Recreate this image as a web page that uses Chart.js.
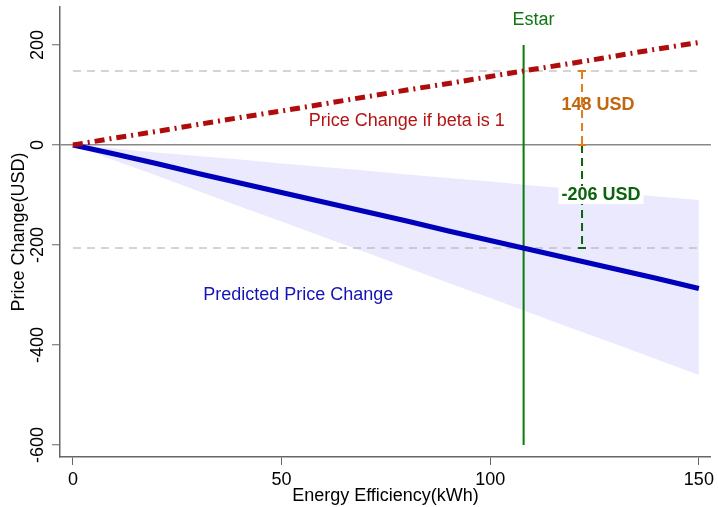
<!DOCTYPE html>
<html>
<head>
<meta charset="utf-8">
<script src="https://cdn.jsdelivr.net/npm/chart.js@4/dist/chart.umd.min.js"></script>
<style>
  html, body { margin: 0; padding: 0; background: #fff; }
  #wrap { width: 718px; height: 507px; position: relative; }
</style>
</head>
<body>
<div id="wrap"><canvas id="price-chart"></canvas></div>
<script>
// kWh saved
const efficiency = [0, 10, 20, 30, 40, 50, 60, 70, 80, 90, 100, 110, 120, 130, 140, 150];
// predicted price change and its band
const predicted = [0, -18, -37, -57, -76, -95, -114, -133, -152, -172, -191, -210, -229, -248, -267, -287];
const upperBand = [0, -7, -15, -22, -29, -37, -44, -51, -59, -66, -73, -81, -88, -95, -103, -110];
const lowerBand = [0, -31, -61, -92, -123, -153, -184, -214, -245, -276, -306, -337, -368, -398, -429, -460];
// price change if beta is 1
const betaOne = [0, 14, 27, 41, 55, 68, 82, 96, 110, 123, 137, 151, 164, 178, 192, 205];

const estarX = 108;
const estarSpan = [200, -600];
const gapX = 122;
const refLevels = [148, -206];
const refSpan = [0, 150];

const xTicks = [0, 50, 100, 150];
const yTicks = [200, 0, -200, -400, -600];

const FONT = "'Liberation Sans', Arial, sans-serif";

const pts = (ys) => ys.map((y, i) => ({ x: efficiency[i], y: y }));
const seg = (x0, y0, x1, y1) => [{ x: x0, y: y0 }, { x: x1, y: y1 }];

const datasets = [
  { // red dash-dot
    data: pts(betaOne), borderColor: '#b00c0c', borderWidth: 5,
    borderDash: [10, 5, 2, 5], pointRadius: 0, order: 1
  },
  { // blue fit
    data: pts(predicted), borderColor: '#0000bb', borderWidth: 5,
    pointRadius: 0, order: 2
  },
  { // band top
    data: pts(upperBand), borderWidth: 0, pointRadius: 0,
    backgroundColor: '#eae9fd', fill: '+1', order: 9
  },
  { // band bottom
    data: pts(lowerBand), borderWidth: 0, pointRadius: 0, order: 10
  },
  { // estar
    data: seg(estarX, estarSpan[0], estarX, estarSpan[1]),
    borderColor: '#0b7a0b', borderWidth: 2, pointRadius: 0, order: 4
  },
  {
    data: seg(refSpan[0], refLevels[0], refSpan[1], refLevels[0]),
    borderColor: '#aaaaaa', borderWidth: 1, borderDash: [8, 6], pointRadius: 0, order: 8
  },
  {
    data: seg(refSpan[0], refLevels[1], refSpan[1], refLevels[1]),
    borderColor: '#aaaaaa', borderWidth: 1, borderDash: [8, 6], pointRadius: 0, order: 8
  },
  { // orange gap
    data: seg(gapX, refLevels[0], gapX, 0),
    borderColor: '#e07d1e', borderWidth: 2, borderDash: [8, 5],
    pointStyle: 'line', pointRadius: 4, pointBorderWidth: 2, pointBorderColor: '#e07d1e', order: 5
  },
  { // green gap
    data: seg(gapX, 0, gapX, refLevels[1]),
    borderColor: '#0a640a', borderWidth: 2, borderDash: [8, 5],
    pointStyle: 'line', pointRadius: [0, 4], pointBorderWidth: 2, pointBorderColor: '#0a640a', order: 6
  }
];

const notes = {
  id: 'notes',
  afterDraw(chart) {
    const { ctx, scales: { x, y } } = chart;
    ctx.save();

    // y tick labels, turned like the original
    ctx.fillStyle = '#000';
    ctx.font = '18px ' + FONT;
    ctx.textAlign = 'center';
    ctx.textBaseline = 'middle';
    yTicks.forEach(v => {
      ctx.save();
      ctx.translate(38, y.getPixelForValue(v));
      ctx.rotate(-Math.PI / 2);
      ctx.fillText(String(v), 0, 0);
      ctx.restore();
    });

    const text = (s, xv, yv, color, bold, dx) => {
      ctx.font = (bold ? 'bold ' : '') + '18px ' + FONT;
      ctx.fillStyle = color;
      ctx.fillText(s, x.getPixelForValue(xv) + (dx || 0), y.getPixelForValue(yv));
    };

    text('Estar', estarX, 250, '#117711', false, 10);
    text('Price Change if beta is 1', 80, 48, '#b41414');
    text('Predicted Price Change', 54, -300, '#1414b4');
    text('148 USD', gapX, 80, '#c0680e', true, 16);

    // white box behind -206 USD
    ctx.font = 'bold 18px ' + FONT;
    const lbl = '-206 USD';
    const w = ctx.measureText(lbl).width + 6;
    const cx = x.getPixelForValue(gapX) + 19;
    const cy = y.getPixelForValue(-100);
    ctx.fillStyle = '#fff';
    ctx.fillRect(cx - w / 2, cy - 9, w, 18);
    text(lbl, gapX, -100, '#0a640a', true, 19);

    ctx.restore();
  }
};

new Chart(document.getElementById('price-chart'), {
  type: 'line',
  data: { datasets },
  options: {
    responsive: true, maintainAspectRatio: false,
    animation: false,
    layout: { padding: { top: 7, right: 6, left: 0, bottom: 0 } },
    plugins: { legend: { display: false }, tooltip: { enabled: false } },
    elements: { line: { tension: 0 } },
    scales: {
      x: {
        type: 'linear', min: -3.1, max: 152.9,
        afterBuildTicks: (s) => { s.ticks = xTicks.map(v => ({ value: v })); },
        afterFit: (s) => { s.height = 50; },
        grid: { drawOnChartArea: false, tickLength: 8, tickColor: '#666', tickWidth: 1 },
        border: { color: '#666', width: 1.5 },
        ticks: { color: '#000', font: { family: FONT, size: 18 }, padding: 4, maxRotation: 0 },
        title: { display: true, text: 'Energy Efficiency(kWh)', color: '#000',
                 font: { family: FONT, size: 18 }, padding: { top: 0, bottom: 0 } }
      },
      y: {
        type: 'linear', min: -624, max: 276,
        afterBuildTicks: (s) => { s.ticks = yTicks.map(v => ({ value: v })); },
        afterFit: (s) => { s.width = 60; },
        grid: {
          tickLength: 8, tickColor: '#666', tickWidth: 1,
          color: (c) => c.tick && c.tick.value === 0 ? '#888' : 'rgba(0,0,0,0)',
          lineWidth: 1.5
        },
        border: { color: '#666', width: 1.5 },
        ticks: { display: false },
        title: { display: true, text: 'Price Change(USD)', color: '#000',
                 font: { family: FONT, size: 18 }, padding: { top: 8, bottom: 0 } }
      }
    }
  },
  plugins: [notes]
});
</script>
</body>
</html>
